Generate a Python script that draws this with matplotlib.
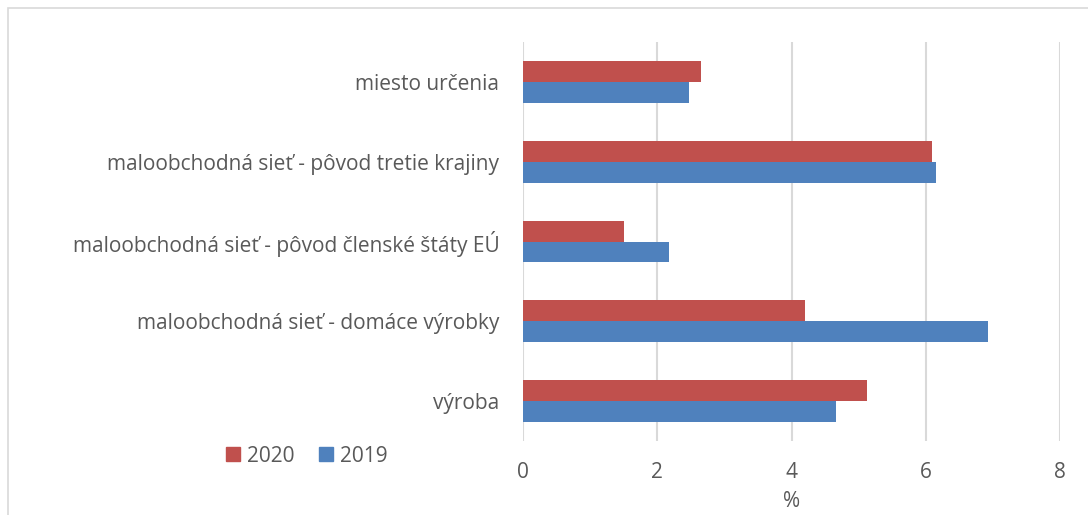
import matplotlib
matplotlib.use("Agg")
import matplotlib.pyplot as plt
from matplotlib.patches import Rectangle, Patch
import numpy as np

categories = [
    "výroba",
    "maloobchodná sieť - domáce výrobky",
    "maloobchodná sieť - pôvod členské štáty EÚ",
    "maloobchodná sieť - pôvod tretie krajiny",
    "miesto určenia",
]
values_2020 = [5.13, 4.20, 1.50, 6.10, 2.65]
values_2019 = [4.67, 6.92, 2.17, 6.16, 2.47]
x_ticks = [0, 2, 4, 6, 8]

RED = "#c0504d"
BLUE = "#4f81bd"
TEXT = "#595959"
GRID = "#d9d9d9"
FS = 15

plt.rcParams["font.family"] = ["Open Sans", "DejaVu Sans"]

W, H = 1088, 515
fig = plt.figure(figsize=(W / 100, H / 100), dpi=100)
fig.patch.set_facecolor("white")

# outer chart frame
fig.patches.append(Rectangle((8 / W, -0.1), 1.2, (H - 8) / H + 0.1,
                             transform=fig.transFigure, fill=False,
                             edgecolor=GRID, linewidth=1.2))

ax = fig.add_axes([523 / W, 1 - 441 / H, (1060 - 523) / W, (441 - 42) / H])

y = np.arange(len(categories))
h = 0.263
ax.barh(y + h / 2, values_2020, height=h, color=RED, label="2020", zorder=3)
ax.barh(y - h / 2, values_2019, height=h, color=BLUE, label="2019", zorder=3)

ax.set_xlim(0, 8)
ax.set_ylim(-0.5, len(categories) - 0.5)
ax.set_xticks(x_ticks)
ax.set_xticklabels([str(t) for t in x_ticks])
ax.set_yticks(y)
ax.set_yticklabels(categories)
ax.tick_params(axis="both", length=0, labelsize=FS, colors=TEXT)
ax.tick_params(axis="x", pad=15)
ax.tick_params(axis="y", pad=17)
ax.xaxis.grid(True, color=GRID, linewidth=1.5, zorder=0)
for s in ax.spines.values():
    s.set_visible(False)

ax.set_xlabel("%", fontsize=FS, color=TEXT, labelpad=6)

handles = [Patch(color=RED, label="2020"), Patch(color=BLUE, label="2019")]
leg = fig.legend(handles=handles, loc="center",
                 bbox_to_anchor=(307 / W, 1 - 456 / H), ncol=2, frameon=False,
                 fontsize=FS, handlelength=0.65, handleheight=0.65,
                 handletextpad=0.35, columnspacing=1.2)
for t in leg.get_texts():
    t.set_color(TEXT)

fig.savefig("out.png", dpi=100)
